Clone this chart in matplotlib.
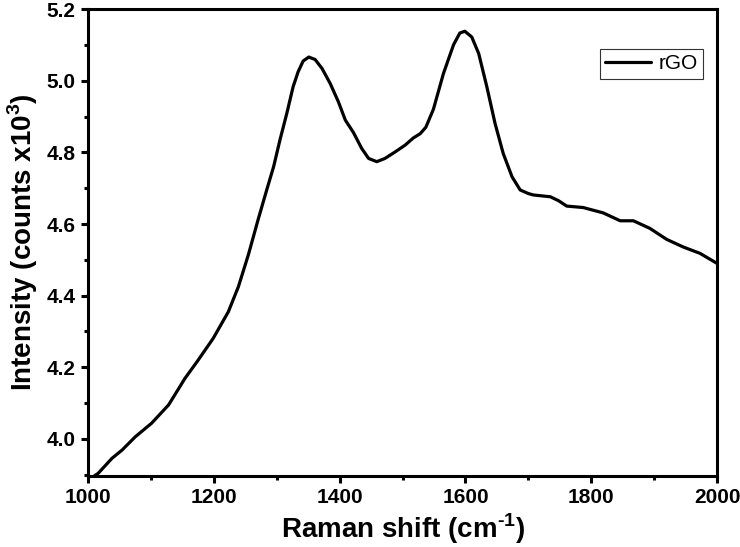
import numpy as np
import matplotlib
matplotlib.use('Agg')
import matplotlib.pyplot as plt
from matplotlib.ticker import MultipleLocator

plt.rcParams['font.family'] = 'Liberation Sans'
plt.rcParams['mathtext.fontset'] = 'custom'
plt.rcParams['mathtext.rm'] = 'Liberation Sans'
plt.rcParams['mathtext.bf'] = 'Liberation Sans:bold'

# Raman spectrum (shift in cm-1, intensity in counts x10^3)
shift = [1010, 1016, 1038, 1054, 1075, 1101, 1128, 1154, 1175, 1199, 1223, 1239,
         1255, 1270, 1284, 1295, 1305, 1316, 1326, 1334, 1342, 1351, 1361, 1372,
         1385, 1398, 1409, 1422, 1435, 1446, 1459, 1472, 1488, 1504, 1517, 1528,
         1537, 1549, 1565, 1581, 1591, 1599, 1610, 1621, 1634, 1647, 1660, 1674,
         1687, 1700, 1708, 1735, 1748, 1761, 1787, 1819, 1846, 1867, 1893, 1920,
         1946, 1973, 2000]
intensity = [3.897, 3.904, 3.946, 3.969, 4.006, 4.044, 4.095, 4.169, 4.22, 4.281,
             4.355, 4.425, 4.515, 4.61, 4.695, 4.76, 4.834, 4.909, 4.983, 5.025,
             5.055, 5.066, 5.059, 5.034, 4.992, 4.941, 4.89, 4.855, 4.811, 4.783,
             4.774, 4.783, 4.801, 4.82, 4.84, 4.852, 4.87, 4.92, 5.02, 5.10,
             5.133, 5.138, 5.122, 5.076, 4.983, 4.881, 4.797, 4.732, 4.695, 4.685,
             4.681, 4.676, 4.665, 4.65, 4.646, 4.631, 4.609, 4.609, 4.588, 4.557,
             4.536, 4.518, 4.49]

fig = plt.figure(figsize=(7.4, 5.47), dpi=100)
ax = fig.add_axes([0.119, 0.130, 0.850, 0.8535])

ax.plot(shift, intensity, color='black', lw=2.3, solid_joinstyle='round',
        solid_capstyle='round', label='rGO')

ax.set_xlim(1000, 2000)
ax.set_ylim(3.897, 5.2)
ax.xaxis.set_major_locator(MultipleLocator(200))
ax.xaxis.set_minor_locator(MultipleLocator(100))
ax.yaxis.set_major_locator(MultipleLocator(0.2))
ax.yaxis.set_minor_locator(MultipleLocator(0.1))
ax.yaxis.set_major_formatter(plt.FormatStrFormatter('%.1f'))

for s in ax.spines.values():
    s.set_linewidth(2.2)
ax.tick_params(which='major', direction='out', length=5, width=2.2,
               labelsize=15, pad=4)
ax.tick_params(which='minor', direction='out', length=3, width=2.2)
for lab in ax.get_xticklabels() + ax.get_yticklabels():
    lab.set_fontweight('bold')

ax.set_xlabel('Raman shift (cm$^{\\mathbf{\u20101}}$)', fontsize=20,
              fontweight='bold', labelpad=3)
ax.set_ylabel(r'Intensity (counts x10$^{\mathbf{3}}$)', fontsize=20,
              fontweight='bold', labelpad=5)

leg = ax.legend(loc='upper right', bbox_to_anchor=(0.977, 0.914), fontsize=15,
                fancybox=False, framealpha=1, edgecolor='#333333',
                handlelength=2.2, borderpad=0.25, handletextpad=0.35,
                borderaxespad=0)
leg.get_frame().set_linewidth(0.8)

fig.savefig('out.png', dpi=100)
